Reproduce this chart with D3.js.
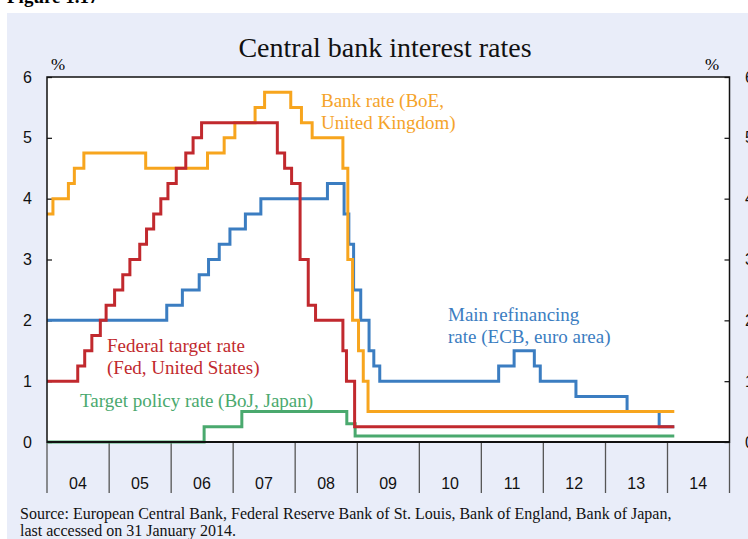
<!DOCTYPE html>
<html>
<head>
<meta charset="utf-8">
<script src="https://cdn.jsdelivr.net/npm/d3@7"></script>
<style>
  body { margin: 0; background: #fff; }
  svg { display: block; }
</style>
</head>
<body>
<div class="canvas"></div>
<script>
// ---- data: dates a rate took effect, and the new rate (%) ----
const fedDates = ["2004-01-01","2004-06-30","2004-08-10","2004-09-21","2004-11-10","2004-12-14",
  "2005-02-02","2005-03-22","2005-05-03","2005-06-30","2005-08-09","2005-09-20","2005-11-01","2005-12-13",
  "2006-01-31","2006-03-28","2006-05-10","2006-06-29","2007-09-18","2007-10-31","2007-12-11",
  "2008-01-30","2008-03-18","2008-04-30","2008-10-08","2008-10-29","2008-12-16"];
const fedRates = [1.00,1.25,1.50,1.75,2.00,2.25,2.50,2.75,3.00,3.25,3.50,3.75,4.00,4.25,
  4.50,4.75,5.00,5.25,4.75,4.50,4.25,3.00,2.25,2.00,1.50,1.00,0.25];

const ecbDates = ["2004-01-01","2005-12-06","2006-03-08","2006-06-15","2006-08-09","2006-10-11","2006-12-13",
  "2007-03-14","2007-06-13","2008-07-09","2008-10-15","2008-11-12","2008-12-10","2009-01-21",
  "2009-03-11","2009-04-08","2009-05-13","2011-04-13","2011-07-13","2011-11-09","2011-12-14",
  "2012-07-11","2013-05-08","2013-11-13"];
const ecbRates = [2.00,2.25,2.50,2.75,3.00,3.25,3.50,3.75,4.00,4.25,3.75,3.25,2.50,2.00,
  1.50,1.25,1.00,1.25,1.50,1.25,1.00,0.75,0.50,0.25];

const boeDates = ["2004-01-01","2004-02-05","2004-05-06","2004-06-10","2004-08-05","2005-08-04",
  "2006-08-03","2006-11-09","2007-01-11","2007-05-10","2007-07-05","2007-12-06","2008-02-07",
  "2008-04-10","2008-10-08","2008-11-06","2008-12-04","2009-01-08","2009-02-05","2009-03-05"];
const boeRates = [3.75,4.00,4.25,4.50,4.75,4.50,4.75,5.00,5.25,5.50,5.75,5.50,5.25,
  5.00,4.50,3.00,2.00,1.50,1.00,0.50];

const bojDates = ["2004-01-01","2006-07-14","2007-02-21","2008-10-31","2008-12-19"];
const bojRates = [0.00,0.25,0.50,0.30,0.10];

const lastDate = "2014-02-10";
const years = ["04","05","06","07","08","09","10","11","12","13","14"];
const yTicks = [0,1,2,3,4,5,6];

// ---- setup ----
const W = 748, H = 539;
const svg = d3.select('.canvas').append('svg')
  .attr('width', W).attr('height', H);

const serif = "'Liberation Serif', 'Times New Roman', serif";
const sans = "'Liberation Sans', Arial, sans-serif";

// background panel
svg.append('rect')
  .attr('x', 7).attr('y', 13).attr('width', W).attr('height', H)
  .attr('fill', '#e9edf9');

svg.append('text')
  .attr('x', 7).attr('y', 3)
  .attr('font-family', serif).attr('font-weight', 'bold').attr('font-size', 19)
  .text('Figure 1.17');

const plot = { left: 47, right: 729.5, top: 77, bottom: 442 };
const parse = d3.timeParse('%Y-%m-%d');

const x = d3.scaleTime()
  .domain([new Date(2004, 0, 1), new Date(2015, 0, 1)])
  .range([plot.left, plot.right]);
const y = d3.scaleLinear().domain([0, 6]).range([plot.bottom, plot.top]);

// plot area
svg.append('rect')
  .attr('x', plot.left).attr('y', plot.top)
  .attr('width', plot.right - plot.left).attr('height', plot.bottom - plot.top)
  .attr('fill', '#fff');

// title
svg.append('text')
  .attr('x', 385).attr('y', 57)
  .attr('text-anchor', 'middle')
  .attr('font-family', serif).attr('font-size', 28)
  .attr('fill', '#111')
  .text('Central bank interest rates');

// y axes (ticks inside, labels outside)
const yAxisL = d3.axisLeft(y).tickValues(yTicks).tickFormat(d3.format('d')).tickSize(-5).tickPadding(15);
const yAxisR = d3.axisRight(y).tickValues(yTicks).tickFormat(d3.format('d')).tickSize(-5).tickPadding(15.5);

const gl = svg.append('g').attr('transform', `translate(${plot.left},0)`).call(yAxisL);
const gr = svg.append('g').attr('transform', `translate(${plot.right},0)`).call(yAxisR);
[gl, gr].forEach(g => {
  g.select('.domain').remove();
  g.selectAll('line').attr('stroke', '#222').attr('stroke-width', 1.3);
  g.selectAll('text').attr('font-family', sans).attr('font-size', 16).attr('fill', '#111');
});

svg.append('text').attr('x', 51).attr('y', 70)
  .attr('font-family', serif).attr('font-size', 17).text('%');
svg.append('text').attr('x', 705).attr('y', 70)
  .attr('font-family', serif).attr('font-size', 17).text('%');

// x axis: year separators and centred labels
const yearStarts = d3.range(years.length + 1).map(i => new Date(2004 + i, 0, 1));
svg.append('g').selectAll('line')
  .data(yearStarts)
  .join('line')
  .attr('x1', d => x(d)).attr('x2', d => x(d))
  .attr('y1', plot.bottom).attr('y2', 493)
  .attr('stroke', '#555').attr('stroke-width', 1.3);

svg.append('g').selectAll('text')
  .data(years)
  .join('text')
  .attr('x', (d, i) => x(new Date(2004 + i, 6, 1)))
  .attr('y', 489)
  .attr('text-anchor', 'middle')
  .attr('font-family', sans).attr('font-size', 16).attr('fill', '#111')
  .text(d => d);

// series
function toPoints(dates, rates) {
  const pts = dates.map((d, i) => ({ date: parse(d), value: rates[i] }));
  pts.push({ date: parse(lastDate), value: rates[rates.length - 1] });
  return pts;
}

const line = d3.line()
  .x(d => x(d.date))
  .y(d => y(d.value))
  .curve(d3.curveStepAfter);

const series = [
  { pts: toPoints(bojDates, bojRates), color: '#4aa96e' },
  { pts: toPoints(ecbDates, ecbRates), color: '#3b7dc1' },
  { pts: toPoints(boeDates, boeRates), color: '#f7a51e' },
  { pts: toPoints(fedDates, fedRates), color: '#c1292e' }
];

svg.append('g').selectAll('path')
  .data(series)
  .join('path')
  .attr('d', d => line(d.pts))
  .attr('fill', 'none')
  .attr('stroke', d => d.color)
  .attr('stroke-width', 3)
  .attr('stroke-linejoin', 'miter');

// frame
svg.append('rect')
  .attr('x', plot.left).attr('y', plot.top)
  .attr('width', plot.right - plot.left).attr('height', plot.bottom - plot.top)
  .attr('fill', 'none').attr('stroke', '#111').attr('stroke-width', 1.5);
svg.append('line')
  .attr('x1', plot.left).attr('x2', plot.right).attr('y1', plot.bottom).attr('y2', plot.bottom)
  .attr('stroke', '#111').attr('stroke-width', 2);

// series labels
const labels = [
  { lines: ['Bank rate (BoE,', 'United Kingdom)'], x: 321, y: 107, color: '#f5a32a' },
  { lines: ['Main refinancing', 'rate (ECB, euro area)'], x: 448, y: 321, color: '#3b7dc1' },
  { lines: ['Federal target rate', '(Fed, United States)'], x: 107, y: 352, color: '#c1292e' },
  { lines: ['Target policy rate (BoJ, Japan)'], x: 80, y: 407, color: '#4aa96e' }
];
labels.forEach(l => {
  const t = svg.append('text')
    .attr('font-family', serif).attr('font-size', 19)
    .attr('fill', l.color);
  l.lines.forEach((s, i) => {
    t.append('tspan').attr('x', l.x).attr('y', l.y + i * 22).text(s);
  });
});

// source note
const src = svg.append('text')
  .attr('font-family', serif).attr('font-size', 16).attr('fill', '#111');
src.append('tspan').attr('x', 20).attr('y', 519)
  .text('Source: European Central Bank, Federal Reserve Bank of St. Louis, Bank of England, Bank of Japan,');
src.append('tspan').attr('x', 20).attr('y', 536)
  .text('last accessed on 31 January 2014.');
</script>
</body>
</html>
